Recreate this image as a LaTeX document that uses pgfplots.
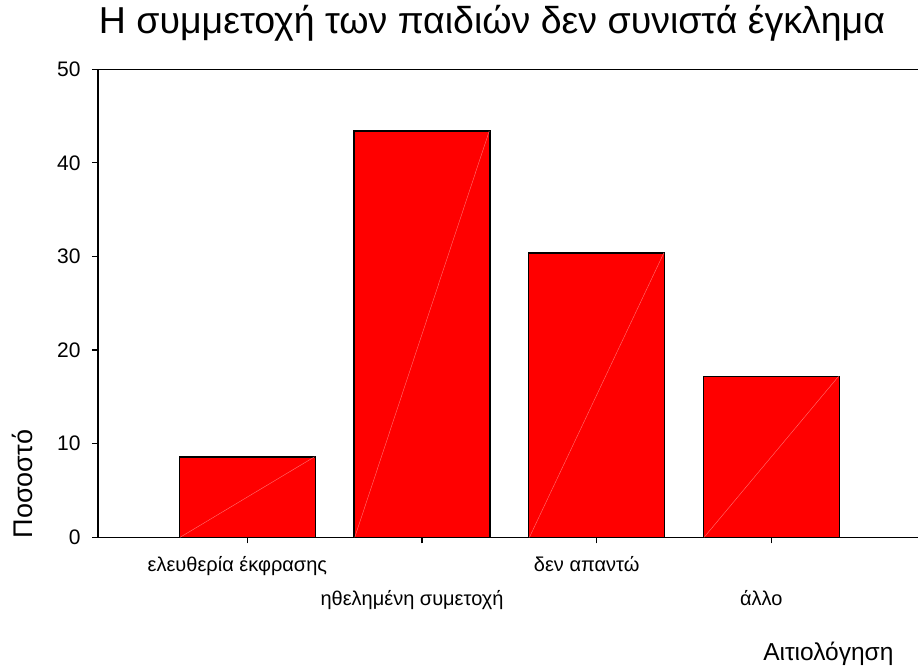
\documentclass[border=0pt]{standalone}
\usepackage{fontspec}
\setmainfont{Liberation Sans}
\usepackage{pgfplots}
\pgfplotsset{compat=1.18}

\begin{document}
\begin{tikzpicture}
\useasboundingbox (0,0) rectangle (918pt,668pt);
\begin{axis}[
    at={(98pt,130.7pt)}, anchor=south west,
    scale only axis,
    width=848pt, height=468pt,
    xmin=-0.855, xmax=4,
    ymin=0, ymax=50,
    xtick={0,1,2,3},
    xticklabels={
        {ελευθερία έκφρασης},
        {\raisebox{-34pt}{ηθελημένη συμετοχή}},
        {δεν απαντώ},
        {\raisebox{-34pt}{άλλο}}
    },
    ytick={0,10,20,30,40,50},
    xtick pos=bottom, ytick pos=left,
    tick align=outside,
    major tick length=6pt,
    tick style={black, line width=1.2pt},
    axis line style={line width=1.5pt},
    /pgf/number format/assume math mode=true,
    yticklabel style={font=\fontsize{21}{24}\selectfont, xshift=-8pt},
    xticklabel style={font=\fontsize{20}{24}\selectfont,
        anchor=base, yshift=-28.4pt, xshift=-10pt},
    ylabel={Ποσοστό},
    ylabel style={font=\fontsize{27}{30}\selectfont,
        at={(axis description cs:-0.0767,-0.01)}, anchor=base west},
    xlabel={Αιτιολόγηση},
    xlabel style={font=\fontsize{24.5}{28}\selectfont,
        at={(axis description cs:0.9422,-0.2622)}, anchor=base east},
    title={Η συμμετοχή των παιδιών δεν συνιστά έγκλημα},
    title style={font=\fontsize{37.5}{40}\selectfont,
        at={(axis description cs:0.4646,1.0626)}, anchor=base},
    clip=false,
]
\addplot[ybar, bar width=136pt, fill=red, draw=black, line width=1.5pt]
coordinates {(0,8.6) (1,43.4) (2,30.4) (3,17.2)};

% faint diagonals inside the bars
\addplot[no marks, draw=red!55!white, line width=0.4pt] coordinates {(-0.385,0) (0.385,8.6)};
\addplot[no marks, draw=red!55!white, line width=0.4pt] coordinates {(0.615,0) (1.385,43.4)};
\addplot[no marks, draw=red!55!white, line width=0.4pt] coordinates {(1.615,0) (2.385,30.4)};
\addplot[no marks, draw=red!55!white, line width=0.4pt] coordinates {(2.615,0) (3.385,17.2)};
\end{axis}
\end{tikzpicture}
\end{document}
